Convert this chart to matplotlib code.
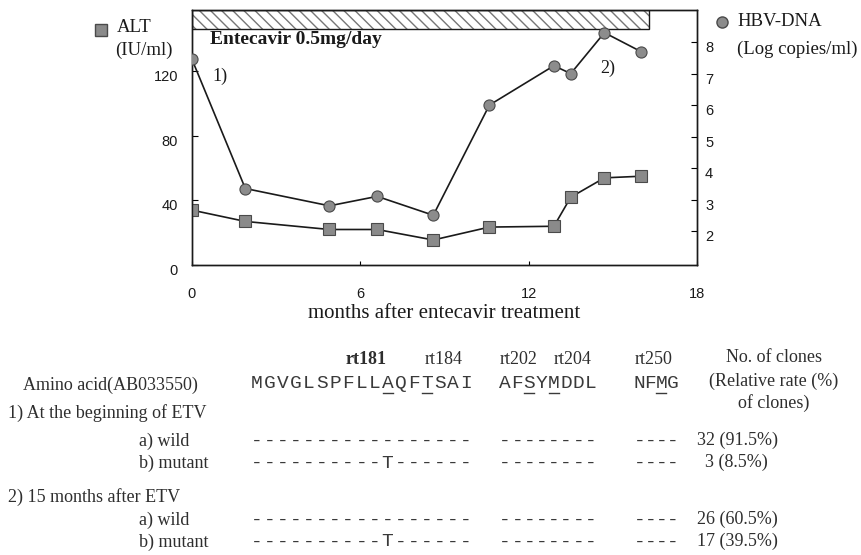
import matplotlib
matplotlib.use("Agg")
import matplotlib.pyplot as plt
import matplotlib.patches as mpatches
from matplotlib.lines import Line2D
from matplotlib.transforms import blended_transform_factory

W, H = 862, 555
SERIF = "Liberation Serif"
SANS = "Liberation Sans"
MONO = "Liberation Mono"

# ---- chart data ----
months = [0, 1.9, 4.9, 6.6, 8.6, 10.6, 12.9, 13.5, 14.7, 16.0]
alt = [34, 27, 22, 22, 15.5, 23.5, 24, 42, 54, 55]
hbv_dna = [7.45, 3.35, 2.8, 3.1, 2.5, 6.0, 7.25, 7.0, 8.3, 7.7]
etv_period = (0, 16.3)
x_ticks = [0, 6, 12, 18]
alt_ticks = [0, 40, 80, 120]
dna_ticks = [2, 3, 4, 5, 6, 7, 8]

# ---- sequence table ----
sites = ["rt181", "rt184", "rt202", "rt204", "rt250"]
seq_groups = ["MGVGLSPFLLAQFTSAI", "AFSYMDDL", "NFMG"]
underlined = [[10, 13], [2, 4], [2]]
row_labels = ["a) wild", "b) mutant", "a) wild", "b) mutant"]
row_seqs = [
    ["-----------------", "--------", "----"],
    ["----------T------", "--------", "----"],
    ["-----------------", "--------", "----"],
    ["----------T------", "--------", "----"],
]
clone_counts = ["32 (91.5%)", "3 (8.5%)", "26 (60.5%)", "17 (39.5%)"]
time_points = ["1) At the beginning of ETV", "2) 15 months after ETV"]


def fx(x):
    return x / W


def fy(y):
    return 1 - y / H


fig = plt.figure(figsize=(W / 100, H / 100), dpi=100)
ax = fig.add_axes([fx(192), fy(265), (697 - 192) / W, 255 / H])
ax2 = ax.twinx()

ax.set_xlim(0, 18)
ax.set_ylim(0, 158)
ax2.set_ylim(0.92, 9.02)

ink = "#1a1a1a"
ax.plot(months, alt, "-", color=ink, lw=1.2, marker="s", markersize=8,
        markerfacecolor="#8a8a8a", markeredgecolor="#4a4a4a", markeredgewidth=0.8, zorder=3)
ax2.plot(months, hbv_dna, "-", color=ink, lw=1.2, marker="o", markersize=8,
         markerfacecolor="#8c8c8c", markeredgecolor="#4a4a4a", markeredgewidth=0.8, zorder=3)

# treatment bar along the top
trans = blended_transform_factory(ax.transData, ax.transAxes)
x0, x1 = etv_period
ax.add_patch(mpatches.Rectangle((x0, 0.925), x1 - x0, 0.075, transform=trans,
                                facecolor="white", edgecolor="#777777", hatch="\\\\\\",
                                lw=0, zorder=2))
ax.add_patch(mpatches.Rectangle((x0, 0.925), x1 - x0, 0.075, transform=trans,
                                facecolor="none", edgecolor=ink, lw=1.0, zorder=2.5))

for a in (ax, ax2):
    for s in a.spines.values():
        s.set_color(ink)
        s.set_linewidth(1.0)

ax.set_xticks(x_ticks)
ax.set_xticklabels([str(t) for t in x_ticks], fontsize=10.5, family=SANS, color=ink)
ax.tick_params(axis="x", direction="in", length=3, pad=16)
ax.set_yticks(alt_ticks)
ax.set_yticklabels([])
ax.tick_params(axis="y", direction="in", length=4)
ax2.set_yticks(dna_ticks)
ax2.set_yticklabels([])
ax2.tick_params(axis="y", direction="in", length=4)

# tick labels sit a little below their marks on the scan
for v in alt_ticks:
    ax.annotate(str(v), xy=(0, v), xycoords=("axes fraction", "data"),
                xytext=(-14, -6), textcoords="offset pixels", ha="right", va="center",
                fontsize=10.5, family=SANS, color=ink)
for v in dna_ticks:
    ax2.annotate(str(v), xy=(1, v), xycoords=("axes fraction", "data"),
                 xytext=(8, -6), textcoords="offset pixels", ha="left", va="center",
                 fontsize=10.5, family=SANS, color=ink)

ax.set_xlabel("months after entecavir treatment", family=SERIF, fontsize=15, color=ink, labelpad=2)

ax.text(0.035, 0.885, "Entecavir 0.5mg/day", transform=ax.transAxes, family=SERIF,
        fontsize=14, fontweight="bold", color=ink, va="center")
fig.text(fx(212), fy(76), "1)", family=SERIF, fontsize=13, color=ink, va="center")
fig.text(fx(600), fy(68), "2)", family=SERIF, fontsize=13, color=ink, va="center")

# axis legends
fig.lines.append(Line2D([fx(101)], [fy(30)], marker="s", markersize=8, markerfacecolor="#8a8a8a",
                        markeredgecolor="#4a4a4a", transform=fig.transFigure))
fig.text(fx(117), fy(28), "ALT", family=SERIF, fontsize=13.5, color=ink, va="center")
fig.text(fx(115), fy(50), "(IU/ml)", family=SERIF, fontsize=13.5, color=ink, va="center")
fig.lines.append(Line2D([fx(722)], [fy(22)], marker="o", markersize=8, markerfacecolor="#8c8c8c",
                        markeredgecolor="#4a4a4a", transform=fig.transFigure))
fig.text(fx(737), fy(22), "HBV-DNA", family=SERIF, fontsize=13.5, color=ink, va="center")
fig.text(fx(737), fy(49), "(Log copies/ml)", family=SERIF, fontsize=13.5, color=ink, va="center")

# ---- table below the chart ----
tc = "#2e2e2e"
site_x = [366, 444, 519, 573, 654]
for name, x in zip(sites, site_x):
    fig.text(fx(x), fy(360), name, family=SERIF, fontsize=13, color=tc, ha="center", va="center",
             fontweight="bold" if name == "rt181" else "normal")

group_x = [250, 499, 634]
group_pitch = [13.1, 12.2, 11.0]


def draw_chars(chars, gx, pitch, y, marks=()):
    for i, ch in enumerate(chars):
        cx = gx + (i + 0.5) * pitch
        fig.text(fx(cx), fy(y), ch, family=MONO, fontsize=14, color="#3a3a3a",
                 ha="center", va="center")
        if i in marks:
            fig.lines.append(Line2D([fx(cx - 5), fx(cx + 5)], [fy(y + 9), fy(y + 9)],
                                    color="#3a3a3a", lw=1.0, transform=fig.transFigure))


fig.text(fx(23), fy(385), "Amino acid(AB033550)", family=SERIF, fontsize=13, color=tc, va="center")
for g, gx, p, m in zip(seq_groups, group_x, group_pitch, underlined):
    draw_chars(g, gx, p, 384, m)

fig.text(fx(774), fy(358), "No. of clones", family=SERIF, fontsize=13, color=tc, ha="center", va="center")
fig.text(fx(774), fy(381), "(Relative rate (%)", family=SERIF, fontsize=13, color=tc, ha="center", va="center")
fig.text(fx(774), fy(403), "of clones)", family=SERIF, fontsize=13, color=tc, ha="center", va="center")

fig.text(fx(8), fy(413), time_points[0], family=SERIF, fontsize=13, color=tc, va="center")
fig.text(fx(8), fy(497), time_points[1], family=SERIF, fontsize=13, color=tc, va="center")

row_y = [441, 463, 520, 542]
count_x = [697, 705, 697, 697]
for lab, seqs, cnt, y, cx in zip(row_labels, row_seqs, clone_counts, row_y, count_x):
    fig.text(fx(139), fy(y), lab, family=SERIF, fontsize=13, color=tc, va="center")
    for s, gx, p in zip(seqs, group_x, group_pitch):
        draw_chars(s, gx, p, y)
    fig.text(fx(cx), fy(y - 1), cnt, family=SERIF, fontsize=13, color=tc, va="center")

fig.savefig("out.png", dpi=100, facecolor="white")
